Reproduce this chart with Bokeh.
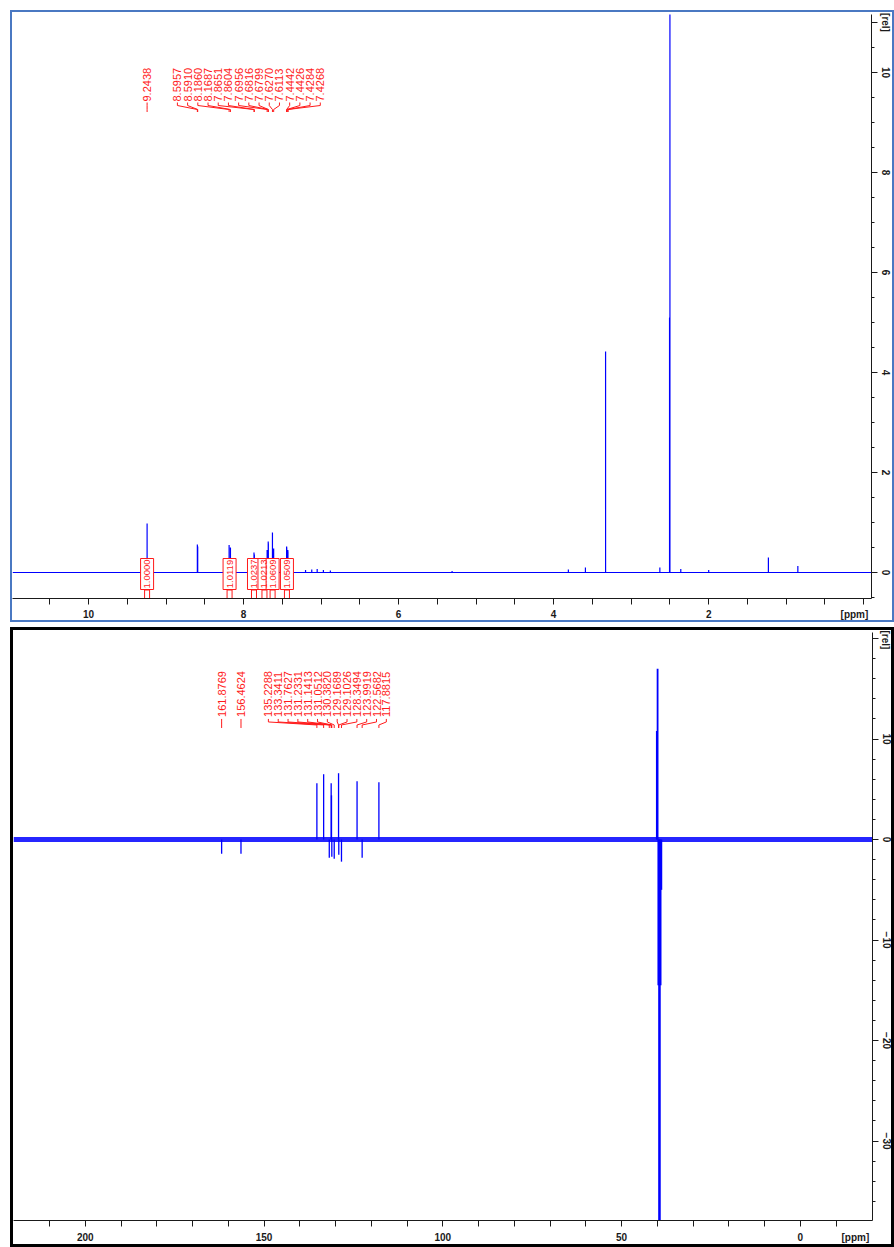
import numpy as np
from bokeh.plotting import figure
from bokeh.models import Range1d, FixedTicker
from bokeh.layouts import column
from bokeh.embed import file_html
from bokeh.resources import INLINE
from bokeh.core.properties import value

# ---------------- 1H spectrum data ----------------
h_label_ppm = [9.2438, 8.5957, 8.5910, 8.1860, 8.1687, 7.8651, 7.8604, 7.6956,
               7.6816, 7.6799, 7.6270, 7.6113, 7.4442, 7.4426, 7.4284, 7.4268]
h_label_int = [0.98, 0.56, 0.52, 0.55, 0.50, 0.40, 0.36, 0.45,
               0.62, 0.58, 0.80, 0.48, 0.52, 0.50, 0.45, 0.42]
h_other_ppm = [7.20, 7.12, 7.05, 6.97, 6.88, 5.31, 3.81, 3.59, 3.33,
               2.63, 2.505, 2.50, 2.36, 2.00, 1.23, 0.85]
h_other_int = [0.05, 0.06, 0.07, 0.05, 0.04, 0.03, 0.06, 0.10, 4.42,
               0.10, 5.10, 11.8, 0.07, 0.05, 0.30, 0.13]
h_integral_ppm = [9.244, 8.180, 7.865, 7.730, 7.625, 7.440]
h_integral_txt = ["1.0000", "1.0119", "1.0237", "1.0213", "1.0609", "1.0509"]
h_xticks = [2, 4, 6, 8, 10]
h_yticks = [0, 2, 4, 6, 8, 10]

# ---------------- 13C spectrum data ----------------
c_label_ppm = [161.8769, 156.4624, 135.2288, 133.3411, 131.7627, 131.2331, 131.1413,
               131.0512, 130.3820, 129.1689, 129.1026, 128.3494, 123.9919, 122.5682, 117.8815]
c_label_int = [-1.4, -1.4, 5.6, 6.5, -1.8, 5.6, 4.4,
               -1.7, -1.9, 6.6, -1.5, -2.2, 5.8, -1.8, 5.7]
c_solv_ppm = [40.13, 39.92, 39.71, 39.50, 39.29, 39.08, 38.87]
c_solv_int = [10.8, 17.0, -14.5, -45.0, -45.0, -14.5, -5.0]
c_xticks = [0, 50, 100, 150, 200]
c_yticks = [-30, -20, -10, 0, 10]

BLUE = "#0000ff"
RED = "#ff1a1a"
FONT = "Liberation Sans"
INK = "#1a1a1a"


def style_axes(p, x_unit_pos, x_major, x_minor, y_unit_pos, y_major, y_minor, x_standoff):
    for ax in p.xaxis + p.yaxis:
        ax.axis_line_color = INK
        ax.major_tick_line_color = INK
        ax.minor_tick_line_color = INK
        ax.major_label_text_font = FONT
        ax.major_label_text_font_style = "bold"
        ax.major_label_text_font_size = "10px"
        ax.major_label_text_color = INK
        ax.major_tick_in = 0
        ax.minor_tick_in = 0
    # x axis: all tick marks drawn as equal-length minor ticks; majors only carry labels
    p.xaxis.ticker = FixedTicker(ticks=list(x_major) + [x_unit_pos], minor_ticks=list(x_minor))
    p.xaxis.major_label_overrides = {x_unit_pos: "[ppm]"}
    p.xaxis.major_tick_out = 0
    p.xaxis.minor_tick_out = 6
    p.xaxis.major_label_standoff = x_standoff
    # right y axis
    p.yaxis.ticker = FixedTicker(ticks=list(y_major) + [y_unit_pos], minor_ticks=list(y_minor))
    p.yaxis.major_label_overrides = {y_unit_pos: "[rel]"}
    p.yaxis.major_tick_out = 6
    p.yaxis.minor_tick_out = 3
    p.yaxis.major_label_standoff = 2
    p.yaxis.major_label_orientation = "vertical"
    p.xgrid.visible = False
    p.ygrid.visible = False
    p.outline_line_color = None


def add_peak_labels(p, ppm, lab_x, y_text, y_levels, fs):
    p.text(x=lab_x, y=[y_text] * len(ppm), text=[f"{v:.4f}" for v in ppm], angle=np.pi / 2,
           text_align="left", text_baseline="middle", text_color=RED,
           text_font=value(FONT), text_font_size=fs)
    y0, y1, y2, y3 = y_levels
    xs = [[lx, lx, px, px] for lx, px in zip(lab_x, ppm)]
    ys = [[y0, y1, y2, y3] for _ in ppm]
    p.multi_line(xs, ys, line_color=RED, line_width=1)


# ====================== 1H panel ======================
hx0, hx1 = 10.98, -0.10
hy0, hy1 = -0.52, 11.16
p1 = figure(width=880, height=608, x_range=Range1d(hx0, hx1), y_range=Range1d(hy0, hy1),
            y_axis_location="right", output_backend="svg", toolbar_location=None,
            min_border_left=0, min_border_right=24, min_border_top=2, min_border_bottom=26)
p1.styles = {"border": "2px solid #4a78c2", "box-sizing": "content-box"}
style_axes(p1, 0.12, h_xticks, np.arange(0, 11, 0.5), 11, h_yticks,
           np.arange(-0.5, 11.5, 0.5), 4)

all_ppm = np.array(h_label_ppm + h_other_ppm)
all_int = np.array(h_label_int + h_other_int)
order = np.argsort(all_ppm)[::-1]
sx, sy = [hx0], [0.0]
for i in order:
    sx += [all_ppm[i], all_ppm[i], all_ppm[i]]
    sy += [0.0, all_int[i], 0.0]
sx.append(hx1)
sy.append(0.0)
p1.line(sx, sy, line_color=BLUE, line_width=1.2)

h_lab_x = [h_label_ppm[0]] + list(np.linspace(8.853, 7.010, len(h_label_ppm) - 1))
add_peak_labels(p1, h_label_ppm, h_lab_x, 9.42, (9.40, 9.34, 9.26, 9.21), "11px")

# integrals
yc = -0.03
n_int = len(h_integral_ppm)
p1.rect(x=h_integral_ppm, y=[-0.47] * n_int, width=5, height=12, width_units="screen",
        height_units="screen", fill_color=None, line_color=RED, line_width=1)
p1.rect(x=h_integral_ppm, y=[yc] * n_int, width=13, height=31, width_units="screen",
        height_units="screen", fill_color="white", line_color=RED, line_width=1)
p1.text(x=h_integral_ppm, y=[yc] * n_int, text=h_integral_txt, angle=np.pi / 2,
        text_align="center", text_baseline="middle", text_color=RED,
        text_font=value(FONT), text_font_size="9.5px")

# ====================== 13C panel ======================
cx0, cx1 = 220.1, -20.2
cy0, cy1 = -37.9, 20.6
p2 = figure(width=878, height=614, x_range=Range1d(cx0, cx1), y_range=Range1d(cy0, cy1),
            y_axis_location="right", output_backend="svg", toolbar_location=None,
            min_border_left=0, min_border_right=25, min_border_top=2, min_border_bottom=30)
p2.styles = {"border": "3px solid #000000", "box-sizing": "content-box"}
style_axes(p2, -15.4, c_xticks, range(-10, 220, 10), 20, c_yticks, range(-36, 21, 2), 5)

p2.line([cx0, cx1], [0, 0], line_color=BLUE, line_width=5, line_alpha=0.85)
p2.segment(x0=c_label_ppm, y0=[0] * len(c_label_ppm), x1=c_label_ppm, y1=c_label_int,
           line_color=BLUE, line_width=1.3)
p2.segment(x0=c_solv_ppm, y0=[0] * len(c_solv_ppm), x1=c_solv_ppm, y1=c_solv_int,
           line_color=BLUE, line_width=1.8)

c_lab_x = c_label_ppm[:2] + list(np.linspace(148.8, 115.8, len(c_label_ppm) - 2))
add_peak_labels(p2, c_label_ppm, c_lab_x, 12.2, (12.0, 11.7, 11.4, 11.1), "11px")

layout = column(p1, p2, spacing=5, margin=(10, 0, 0, 10))
open("out.html", "w").write(file_html(layout, INLINE))
